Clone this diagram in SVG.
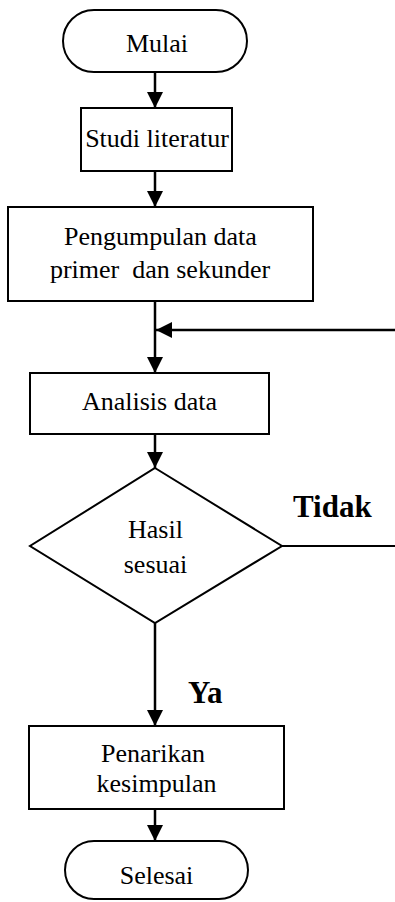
<svg xmlns="http://www.w3.org/2000/svg" width="395" height="902" viewBox="0 0 395 902">
<style>
.s{fill:#fff;stroke:#000;stroke-width:2}
.t{font-family:"Liberation Serif","Times New Roman",serif;font-size:26px;fill:#000;text-anchor:middle}
.b{font-family:"Liberation Serif","Times New Roman",serif;font-size:31px;font-weight:bold;fill:#000}
.c{fill:none;stroke:#000;stroke-width:2.5}
.l{fill:none;stroke:#000;stroke-width:1.8}
</style>
<defs>
<marker id="ah" markerUnits="userSpaceOnUse" markerWidth="16" markerHeight="16" viewBox="0 0 16 16" refX="16" refY="8" orient="auto">
<path d="M0,0 L16,8 L0,16 Z" fill="#000"/>
</marker>
</defs>
<g id="connectors">
<path class="c" d="M155,72 V108" marker-end="url(#ah)"/>
<path class="c" d="M155,171 V207" marker-end="url(#ah)"/>
<path class="c" d="M155,301 V373" marker-end="url(#ah)"/>
<path class="c" d="M395,330 H156" marker-end="url(#ah)"/>
<path class="c" d="M155,434 V468" marker-end="url(#ah)"/>
<path class="l" d="M282,546 H395"/>
<path class="c" d="M155,623 V726" marker-end="url(#ah)"/>
<path class="c" d="M155,809 V841" marker-end="url(#ah)"/>
</g>
<g id="mulai">
<rect class="s" x="63" y="10" width="184" height="62" rx="31"/>
<text class="t" x="157" y="52">Mulai</text>
</g>
<g id="studi">
<rect class="s" x="81" y="108" width="151" height="63"/>
<text class="t" x="157" y="147">Studi literatur</text>
</g>
<g id="pengumpulan">
<rect class="s" x="8" y="207" width="305" height="94"/>
<text class="t" x="160.5" y="245">Pengumpulan data</text>
<text class="t" x="160" y="278" xml:space="preserve">primer  dan sekunder</text>
</g>
<g id="analisis">
<rect class="s" x="30" y="373" width="239" height="61"/>
<text class="t" x="149.5" y="410">Analisis data</text>
</g>
<g id="hasil">
<polygon class="s" points="155,468 282,546 155,623 30,546"/>
<text class="t" x="155.5" y="538">Hasil</text>
<text class="t" x="155.5" y="573">sesuai</text>
</g>
<g id="label-tidak">
<text class="b" x="293" y="517">Tidak</text>
</g>
<g id="label-ya">
<text class="b" x="188" y="703">Ya</text>
</g>
<g id="penarikan">
<rect class="s" x="29" y="726" width="255" height="83"/>
<text class="t" x="153" y="762">Penarikan</text>
<text class="t" x="156.5" y="792">kesimpulan</text>
</g>
<g id="selesai">
<rect class="s" x="65" y="841" width="183" height="58" rx="29"/>
<text class="t" x="156.5" y="884">Selesai</text>
</g>
</svg>
